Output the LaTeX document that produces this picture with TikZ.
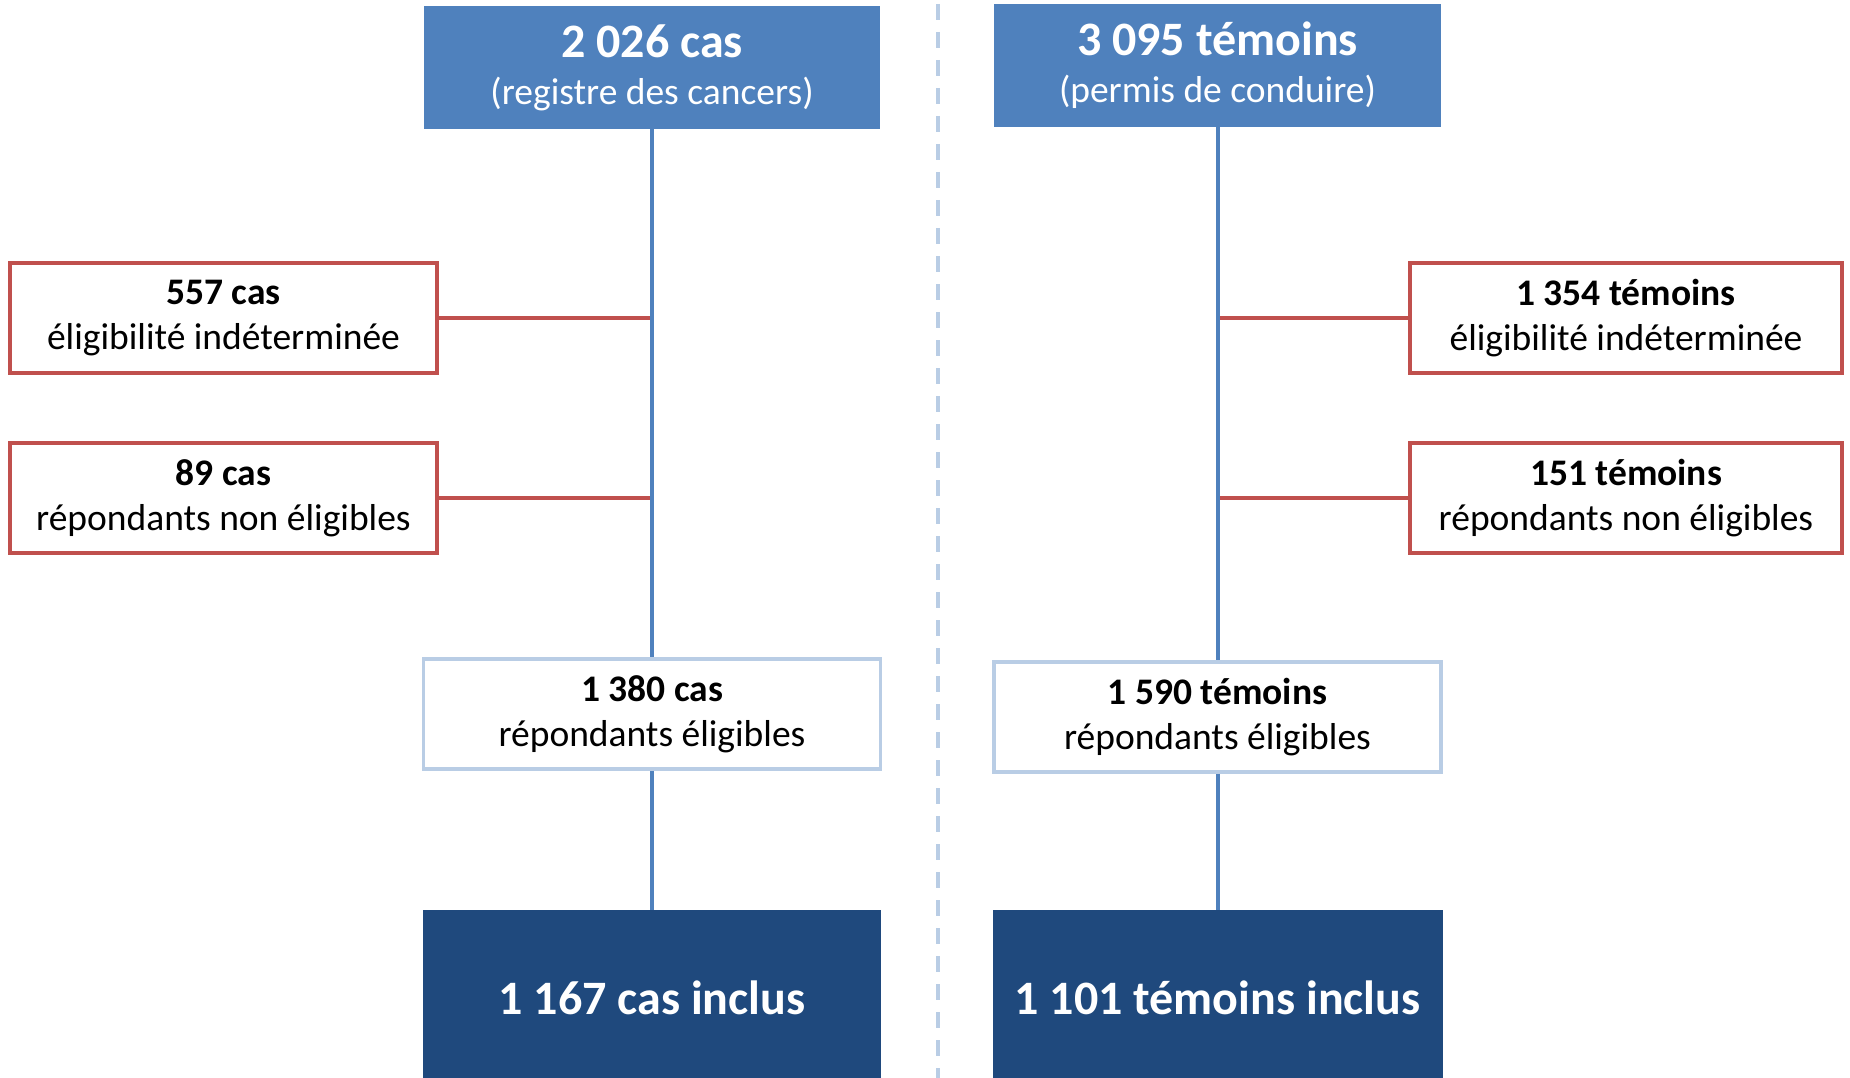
\documentclass[tikz,border=0pt]{standalone}
\usepackage{fontspec}
\setmainfont{Carlito}

\definecolor{hdrblue}{HTML}{4F81BD}
\definecolor{navyblue}{HTML}{1F497D}
\definecolor{exclred}{HTML}{C0504D}
\definecolor{paleblue}{HTML}{B9CDE5}

\tikzset{
  head/.style={fill=hdrblue, text=white, inner sep=0pt, align=center,
    minimum height=123pt, font=\fontsize{37.5}{43}\selectfont},
  excl/.style={draw=exclred, line width=3.5pt, fill=white, inner sep=0pt,
    align=center, minimum width=427pt, minimum height=110pt,
    font=\fontsize{37.5}{45}\selectfont},
  resp/.style={draw=paleblue, line width=3.5pt, fill=white, inner sep=0pt,
    align=center, minimum width=457pt, minimum height=110pt,
    font=\fontsize{37.5}{45}\selectfont},
  final/.style={fill=navyblue, text=white, inner sep=0pt, align=center,
    minimum height=176pt, font=\fontsize{48}{48}\selectfont\bfseries},
  trunk/.style={draw=hdrblue, line width=4pt},
  branch/.style={draw=exclred, line width=4pt}
}

\begin{document}
\begin{tikzpicture}[x=1pt, y=-1pt]
  \useasboundingbox (0,0) rectangle (1850,1078);

  % separation cas / temoins
  \draw[paleblue, line width=4pt, dash pattern=on 16pt off 12pt]
    (938,4) -- (938,1078);

  % cas
  \node[head, minimum width=456pt] (cas) at (652,67.5)
    {{\fontsize{48}{48}\selectfont\bfseries 2 026 cas}\\[4pt](registre des cancers)};
  \node[excl] (casind) at (223.5,318) {\textbf{557 cas}\\éligibilité indéterminée};
  \node[excl] (casne) at (223.5,498) {\textbf{89 cas}\\répondants non éligibles};
  \node[resp] (caselig) at (652,714) {\textbf{1 380 cas}\\répondants éligibles};
  \node[final, minimum width=458pt] (casinc) at (652,998) {1 167 cas inclus};

  % temoins
  \node[head, minimum width=447pt] (tem) at (1217.5,65.5)
    {{\fontsize{48}{48}\selectfont\bfseries 3 095 témoins}\\[4pt](permis de conduire)};
  \node[excl, minimum width=432pt] (temind) at (1626,318) {\textbf{1 354 témoins}\\éligibilité indéterminée};
  \node[excl, minimum width=432pt] (temne) at (1626,498) {\textbf{151 témoins}\\répondants non éligibles};
  \node[resp, minimum width=447pt] (temelig) at (1217.5,717) {\textbf{1 590 témoins}\\répondants éligibles};
  \node[final, minimum width=450pt] (teminc) at (1217.5,998) {1 101 témoins inclus};

  \draw[branch] (casind.east) -- (casind.east -| cas.south);
  \draw[branch] (casne.east) -- (casne.east -| cas.south);
  \draw[branch] (temind.west) -- (temind.west -| tem.south);
  \draw[branch] (temne.west) -- (temne.west -| tem.south);

  \draw[trunk] (cas.south) -- (caselig.north);
  \draw[trunk] (caselig.south) -- (casinc.north);
  \draw[trunk] (tem.south) -- (temelig.north);
  \draw[trunk] (temelig.south) -- (teminc.north);

\end{tikzpicture}
\end{document}
